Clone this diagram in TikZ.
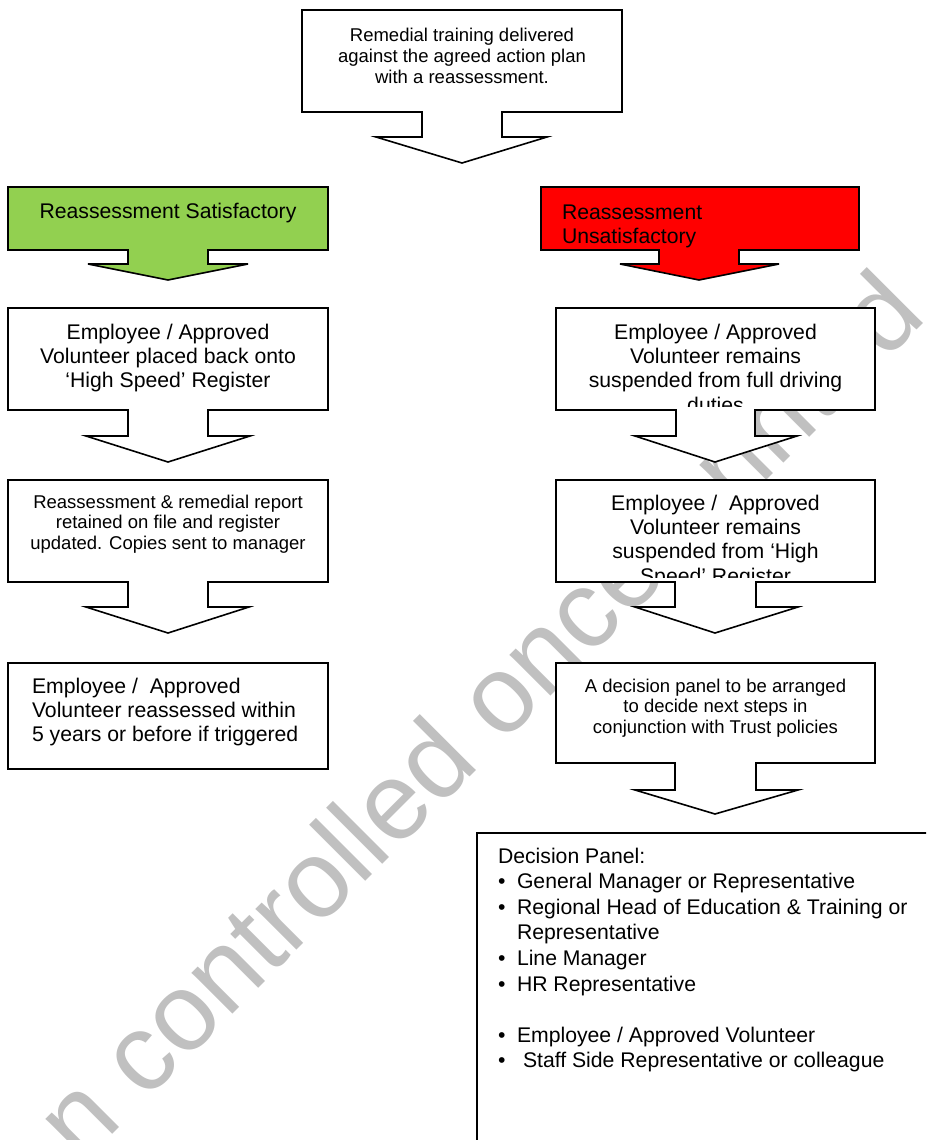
\documentclass[tikz,border=0pt]{standalone}
\usepackage{fontspec}
\setmainfont{Liberation Sans}
\definecolor{wmgray}{RGB}{192,192,192}
\definecolor{okgreen}{RGB}{146,208,80}
\definecolor{badred}{RGB}{255,0,0}
\newcommand\bigtxt{\fontsize{21.2pt}{24.4pt}\selectfont}
\newcommand\smalltxt{\fontsize{18.5pt}{20.8pt}\selectfont}
\newcommand\bul{\makebox[19pt][l]{•}}
\begin{document}
\begin{tikzpicture}[x=1pt,y=-1pt,
  callout/.style={draw=black,line width=1.6pt,fill=white,line join=miter},
  txt/.style={inner sep=0pt,outer sep=0pt,anchor=base},
  wm/.style={inner sep=0pt,anchor=base west,rotate=45,text=wmgray,
    font=\fontsize{109.5pt}{120pt}\selectfont}]
\useasboundingbox (0,0) rectangle (926,1140);
\clip (0,0) rectangle (926,1140);
\fill[white] (0,0) rectangle (926,1140);

% watermark
\node[wm] (wmark) at (81,1166) {n controlled once printed};

% top callout
\draw[callout] (302,10) -- (622,10) -- (622,112) -- (502,112) -- (502,137) -- (547,137)
  -- (462,163) -- (376,137) -- (422,137) -- (422,112) -- (302,112) -- cycle;
\node[txt] (top) at (462,42) {\parbox[t]{330pt}{\centering\smalltxt
  Remedial training delivered\\ against the agreed action plan\\ with a reassessment.}};

% green callout
\draw[callout,fill=okgreen] (8,187) -- (328,187) -- (328,250) -- (208,250) -- (208,264) -- (248,264)
  -- (168,280) -- (88,264) -- (128,264) -- (128,250) -- (8,250) -- cycle;
\node[txt] (sat) at (168,218) {\parbox[t]{320pt}{\centering\bigtxt Reassessment Satisfactory}};

% red callout
\draw[callout,fill=badred] (541,187) -- (859,187) -- (859,250) -- (739,250) -- (739,264) -- (779,264)
  -- (699,280) -- (620,264) -- (659,264) -- (659,250) -- (541,250) -- cycle;
\node[txt,anchor=base west] (unsat) at (562,219) {\parbox[t]{290pt}{\raggedright\bigtxt
  Reassessment\\ Unsatisfactory}};

% left column
\draw[callout] (8,308) -- (328,308) -- (328,410) -- (208,410) -- (208,436) -- (250,436)
  -- (168,462) -- (86,436) -- (128,436) -- (128,410) -- (8,410) -- cycle;
\node[txt] (l2) at (168,339) {\parbox[t]{320pt}{\centering\bigtxt
  Employee / Approved\\ Volunteer placed back onto\\ ‘High Speed’ Register}};

\draw[callout] (8,480) -- (328,480) -- (328,582) -- (208,582) -- (208,607) -- (249,607)
  -- (168,633) -- (86,607) -- (128,607) -- (128,582) -- (8,582) -- cycle;
\node[txt] (l3) at (168,508) {\parbox[t]{320pt}{\centering\smalltxt
  Reassessment \& remedial report\\ retained on file and register\\ updated. Copies sent to manager}};

\draw[callout] (8,663) rectangle (328,769);
\node[txt,anchor=base west] (l4) at (32,693) {\parbox[t]{300pt}{\raggedright\bigtxt
  Employee / \ Approved\\ Volunteer reassessed within\\ 5 years or before if triggered}};

% right column
\draw[callout] (556,308) -- (875,308) -- (875,410) -- (755,410) -- (755,436) -- (797,436)
  -- (715,462) -- (635,436) -- (676,436) -- (676,410) -- (556,410) -- cycle;
\begin{scope}
\clip (556,308) rectangle (875,406);
\node[txt] (r2) at (715.5,339) {\parbox[t]{320pt}{\centering\bigtxt
  Employee / Approved\\ Volunteer remains\\ suspended from full driving\\ duties}};
\end{scope}

\draw[callout] (556,480) -- (875,480) -- (875,582) -- (756,582) -- (756,607) -- (798,607)
  -- (715,633) -- (635,607) -- (675,607) -- (675,582) -- (556,582) -- cycle;
\begin{scope}
\clip (556,480) rectangle (875,577);
\node[txt] (r3) at (715.5,510) {\parbox[t]{320pt}{\centering\bigtxt
  Employee / \ Approved\\ Volunteer remains\\ suspended from ‘High\\ Speed’ Register}};
\end{scope}

\draw[callout] (556,663) -- (875,663) -- (875,763) -- (756,763) -- (756,790) -- (798,790)
  -- (715,814) -- (635,790) -- (675,790) -- (675,763) -- (556,763) -- cycle;
\node[txt] (r4) at (715.5,692) {\parbox[t]{320pt}{\centering\smalltxt
  A decision panel to be arranged\\ to decide next steps in\\ conjunction with Trust policies}};

% decision panel box
\draw[callout,line width=1.8pt] (477,833) rectangle (945,1170);
\node[txt,anchor=base west] (panel) at (498,863) {\parbox[t]{425pt}{\raggedright
  \fontsize{21.2pt}{25.6pt}\selectfont
  Decision Panel:\\
  \bul General Manager or Representative\\
  \bul Regional Head of Education \& Training or\\
  \hspace*{19pt}Representative\\
  \bul Line Manager\\
  \bul HR Representative\\
  \mbox{}\\
  \bul Employee / Approved Volunteer\\
  \bul\hspace*{6pt}Staff Side Representative or colleague}};
\end{tikzpicture}
\end{document}
